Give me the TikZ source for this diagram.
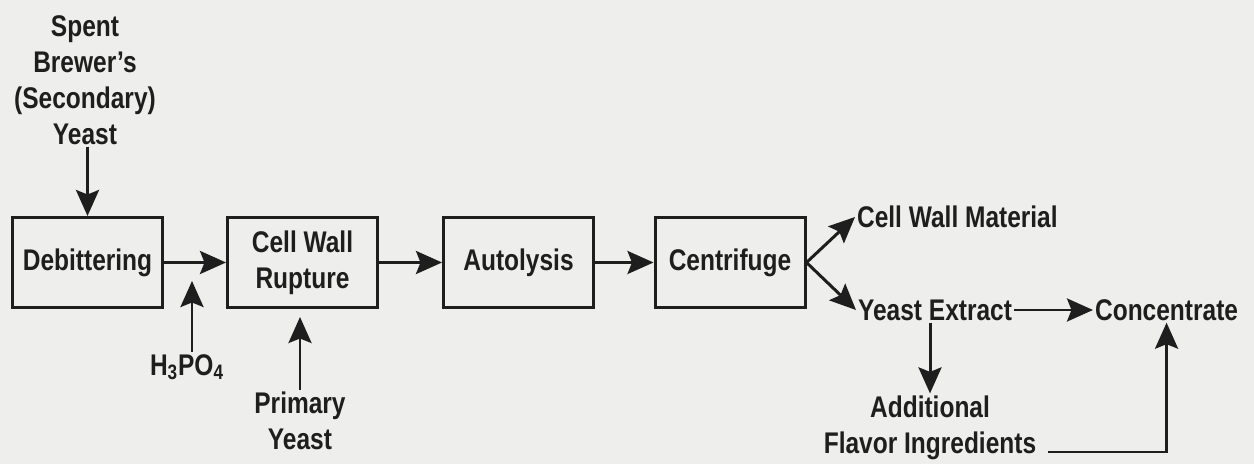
\documentclass[tikz,border=0pt]{standalone}
\usepackage{fontspec}
\setmainfont[FakeStretch=0.82]{Liberation Sans}
\usetikzlibrary{arrows.meta}

\definecolor{yxink}{HTML}{1E1E1E}
\definecolor{yxpaper}{HTML}{EEEEEC}

\begin{document}
\begin{tikzpicture}[
  font=\fontsize{17}{20.5}\selectfont\bfseries,
  proc/.style={draw=yxink, line width=1.7pt, minimum width=3.0cm, minimum height=1.8cm, text=yxink, align=center},
  lbl/.style={text=yxink, align=center, inner sep=1pt},
  flow/.style={draw=yxink, line width=1.7pt, -{Stealth[length=5.2mm,width=4.6mm,inset=0.9mm]}},
]
  \fill[yxpaper] (0,0) rectangle (25.08,-9.28);
  \useasboundingbox (0,0) rectangle (25.08,-9.28);

  % process boxes
  \node[proc] (deb) at (1.75,-5.25) {Debittering};
  \node[proc] (rup) at (6.05,-5.25) {Cell Wall\\Rupture};
  \node[proc] (aut) at (10.37,-5.25) {Autolysis};
  \node[proc] (cen) at (14.60,-5.25) {Centrifuge};

  % inputs
  \node[lbl] (spent) at (1.70,-1.60) {Spent\\Brewer's\\(Secondary)\\Yeast};
  \node[lbl] (acid) at (3.74,-7.34) {H\textsubscript{3}PO\textsubscript{4}};
  \node[lbl] (prim) at (6.00,-8.42) {Primary\\Yeast};
  \coordinate (acidin) at (3.84,-5.62);

  % outputs
  \node[lbl, anchor=west] (cwm) at (17.10,-4.34) {Cell Wall Material};
  \node[lbl, anchor=west] (ye) at (17.12,-6.20) {Yeast Extract};
  \node[lbl, anchor=west] (conc) at (21.86,-6.20) {Concentrate};
  \node[lbl] (addl) at (18.60,-8.55) {Additional\\Flavor Ingredients};
  \coordinate (ret) at (20.96,-9.04);

  % flow
  \draw[flow] (deb.north |- spent.south) -- (deb.north);
  \draw[flow] (deb) -- (rup);
  \draw[flow] (rup) -- (aut);
  \draw[flow] (aut) -- (cen);
  \draw[flow] (acid.north -| acidin) -- (acidin);
  \draw[flow, shorten >=0.16cm] (prim.north) -- (prim.north |- rup.south);
  \draw[flow] (cen.east) -- (cwm.west);
  \draw[flow] (cen.east) -- (ye.west);
  \draw[flow] (ye) -- (conc);
  \draw[flow] (ye.south -| addl.north) -- (addl.north);
  \draw[flow] (ret) -| (conc.south);
\end{tikzpicture}
\end{document}
